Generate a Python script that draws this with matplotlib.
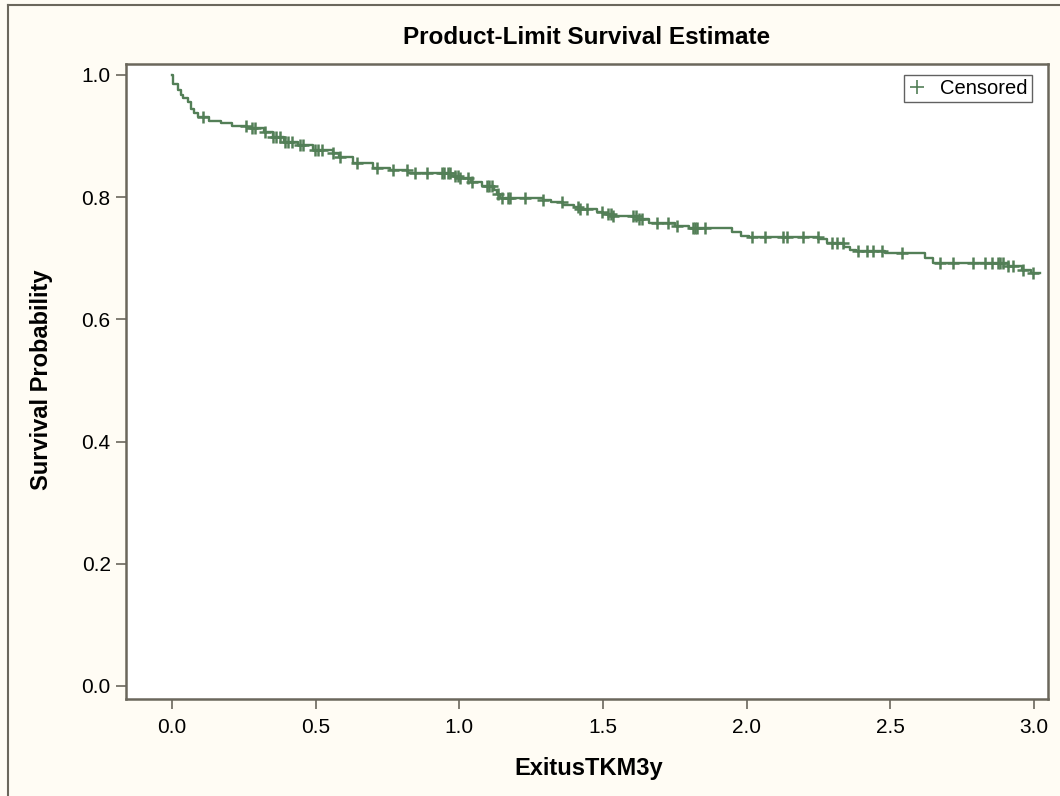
import numpy as np
import matplotlib.pyplot as plt
from matplotlib.lines import Line2D

plt.rcParams['font.family'] = ['Liberation Sans', 'DejaVu Sans']

# step times (event) and survival after each step
event_t = [0.003, 0.02, 0.03, 0.04, 0.055, 0.065, 0.075, 0.09, 0.13, 0.17,
           0.21, 0.26, 0.32, 0.35, 0.39, 0.44, 0.49, 0.56, 0.58, 0.63,
           0.70, 0.76, 0.82, 0.97, 1.00, 1.04, 1.08, 1.12, 1.13, 1.14,
           1.29, 1.32, 1.36, 1.40, 1.42, 1.48, 1.50, 1.53, 1.62, 1.66,
           1.75, 1.80, 1.95, 1.98, 2.01, 2.25, 2.28, 2.34, 2.36, 2.38,
           2.48, 2.62, 2.65, 2.91, 2.96, 2.99]
event_s = [0.985, 0.975, 0.968, 0.962, 0.955, 0.945, 0.938, 0.932, 0.925, 0.921,
           0.916, 0.913, 0.906, 0.898, 0.890, 0.886, 0.877, 0.872, 0.866, 0.856,
           0.848, 0.845, 0.840, 0.835, 0.831, 0.825, 0.818, 0.812, 0.806, 0.799,
           0.796, 0.792, 0.788, 0.784, 0.781, 0.776, 0.772, 0.769, 0.764, 0.758,
           0.753, 0.750, 0.743, 0.737, 0.735, 0.732, 0.725, 0.719, 0.714, 0.712,
           0.709, 0.700, 0.692, 0.687, 0.681, 0.676]
t_end = 3.02

censor_t = [0.108, 0.258, 0.278, 0.289, 0.324, 0.352, 0.362, 0.376, 0.393, 0.404,
            0.418, 0.446, 0.456, 0.498, 0.508, 0.522, 0.561, 0.585, 0.644, 0.714,
            0.769, 0.818, 0.846, 0.888, 0.940, 0.947, 0.961, 0.968, 0.985, 0.995,
            1.002, 1.030, 1.044, 1.096, 1.103, 1.114, 1.135, 1.149, 1.170, 1.176,
            1.228, 1.291, 1.357, 1.413, 1.420, 1.444, 1.497, 1.518, 1.528, 1.535,
            1.604, 1.615, 1.625, 1.636, 1.688, 1.726, 1.758, 1.813, 1.820, 1.827,
            1.855, 2.019, 2.064, 2.127, 2.141, 2.196, 2.249, 2.297, 2.315, 2.335,
            2.387, 2.419, 2.440, 2.471, 2.541, 2.673, 2.718, 2.788, 2.830, 2.854,
            2.875, 2.882, 2.892, 2.910, 2.927, 2.962, 2.997]

green = '#537F57'
edge = '#6B675C'

fig = plt.figure(figsize=(10.6, 7.96), dpi=100)
fig.patch.set_facecolor('#FFFCF4')
ax = fig.add_axes([126 / 1060, 97 / 796, 922 / 1060, 635 / 796])
ax.set_facecolor('white')

# step curve
st = np.concatenate([[0.0], event_t, [t_end]])
ss = np.concatenate([[1.0], event_s, [event_s[-1]]])
ax.step(st, ss, where='post', color=green, lw=1.7)

# censor marks sit on the curve
idx = np.searchsorted(st, censor_t, side='right') - 1
cs = ss[idx]
ax.plot(censor_t, cs, '+', color=green, ms=9, mew=1.8, ls='none')

ax.set_xlim(-0.16, 3.049)
ax.set_ylim(-0.0213, 1.018)
ax.set_xticks(np.arange(0, 3.01, 0.5))
ax.set_yticks(np.arange(0, 1.01, 0.2))
ax.xaxis.set_major_formatter(plt.FormatStrFormatter('%.1f'))
ax.yaxis.set_major_formatter(plt.FormatStrFormatter('%.1f'))
ax.tick_params(direction='out', length=7, width=1.2, color=edge,
               labelsize=15, pad=4, labelcolor='black')
ax.tick_params(axis='x', pad=7)
for sp in ax.spines.values():
    sp.set_color(edge)
    sp.set_linewidth(1.8)

fig.text(587 / 1060, 1 - 38 / 796, 'Product-Limit Survival Estimate',
         ha='center', va='center', fontsize=17.5, fontweight='bold')
fig.text(589 / 1060, 1 - 769 / 796, 'ExitusTKM3y',
         ha='center', va='center', fontsize=17, fontweight='bold')
fig.text(42 / 1060, 1 - 380 / 796, 'Survival Probability', rotation=90,
         ha='center', va='center', fontsize=17, fontweight='bold')

h = Line2D([], [], marker='+', color=green, ls='none', ms=10, mew=1.2)
leg = ax.legend([h], ['Censored'], loc='upper right', fontsize=14.5,
                bbox_to_anchor=(0.9826, 0.982), frameon=True, fancybox=False,
                borderaxespad=0, handlelength=0.9, handletextpad=0.7,
                borderpad=0.2)
leg.get_frame().set_edgecolor('#3A3A3A')
leg.get_frame().set_linewidth(1.0)

# outer frame of the graph
fig.add_artist(Line2D([8 / 1060, 8 / 1060], [0, 1 - 5 / 796],
                      transform=fig.transFigure, color=edge, lw=1.5))
fig.add_artist(Line2D([8 / 1060, 1], [1 - 5 / 796, 1 - 5 / 796],
                      transform=fig.transFigure, color=edge, lw=1.5))

fig.savefig('out.png', dpi=100, facecolor=fig.get_facecolor())
